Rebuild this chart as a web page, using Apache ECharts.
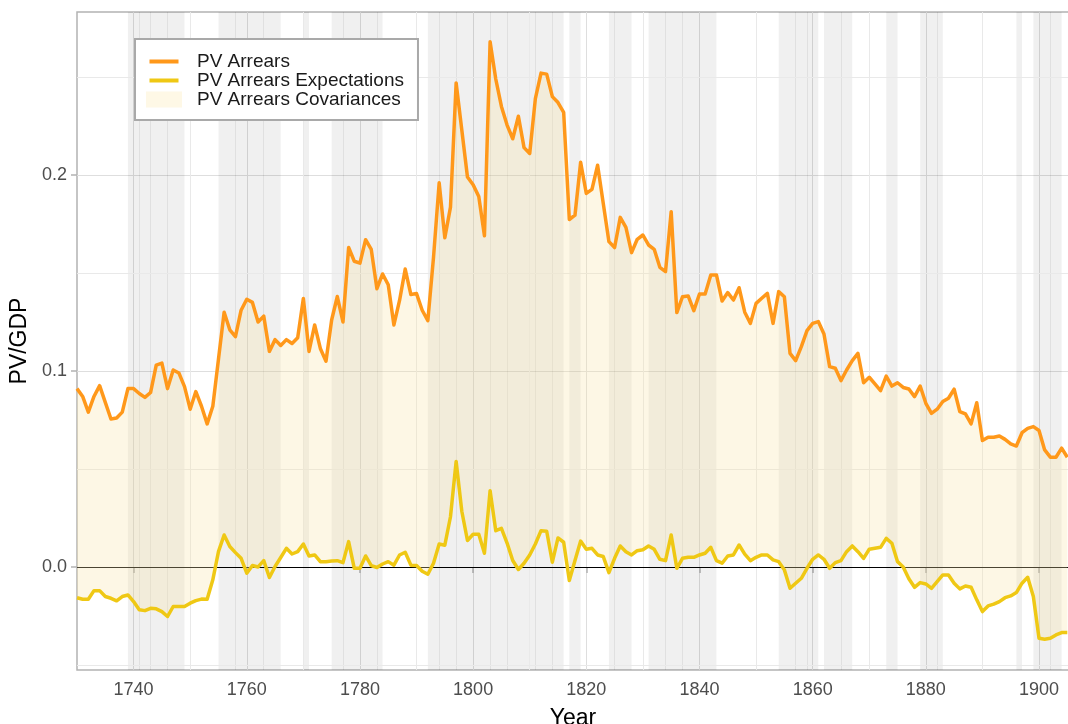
<!DOCTYPE html>
<html>
<head>
<meta charset="utf-8">
<script src="https://cdn.jsdelivr.net/npm/echarts@6/dist/echarts.min.js"></script>
<style>
html,body{margin:0;padding:0;background:#ffffff;}
#chart{width:1068px;height:724px;}
</style>
</head>
<body>
<div id="chart"></div>
<script>
// ---- data ----
const FIRST_YEAR = 1730;

const arrears = [
  0.091, 0.087, 0.079, 0.087, 0.0925, 0.084, 0.0755, 0.076, 0.079, 0.091,      // 1730s
  0.091, 0.0885, 0.0865, 0.089, 0.103, 0.104, 0.091, 0.1005, 0.099, 0.092,     // 1740s
  0.0805, 0.0895, 0.082, 0.073, 0.082, 0.106, 0.130, 0.121, 0.1175, 0.131,     // 1750s
  0.1366, 0.135, 0.125, 0.128, 0.110, 0.116, 0.113, 0.116, 0.114, 0.117,       // 1760s
  0.137, 0.110, 0.1235, 0.1115, 0.105, 0.126, 0.138, 0.125, 0.163, 0.156,      // 1770s
  0.155, 0.167, 0.162, 0.142, 0.1495, 0.144, 0.1235, 0.136, 0.152, 0.139,      // 1780s
  0.1395, 0.131, 0.1257, 0.158, 0.196, 0.168, 0.1836, 0.247, 0.223, 0.199,     // 1790s
  0.195, 0.189, 0.169, 0.268, 0.249, 0.235, 0.2255, 0.2185, 0.230, 0.214,      // 1800s
  0.211, 0.239, 0.252, 0.2515, 0.240, 0.237, 0.232, 0.1773, 0.1795, 0.2065,    // 1810s
  0.1906, 0.1927, 0.205, 0.1855, 0.166, 0.163, 0.1784, 0.1733, 0.1604, 0.1672, // 1820s
  0.1694, 0.1643, 0.1621, 0.1529, 0.1507, 0.1813, 0.1298, 0.1379, 0.1383, 0.1308, // 1830s
  0.1393, 0.1393, 0.149, 0.149, 0.1357, 0.140, 0.1362, 0.1425, 0.130, 0.1243,  // 1840s
  0.1345, 0.1371, 0.1396, 0.1243, 0.1405, 0.1379, 0.109, 0.1053, 0.1124, 0.1206, // 1850s
  0.1243, 0.1252, 0.1189, 0.1022, 0.1014, 0.0951, 0.1005, 0.1053, 0.109, 0.094, // 1860s
  0.0968, 0.0934, 0.090, 0.0974, 0.0923, 0.094, 0.0916, 0.0908, 0.0869, 0.0923, // 1870s
  0.0835, 0.0784, 0.0805, 0.0844, 0.0861, 0.0907, 0.0793, 0.0781, 0.073, 0.0838, // 1880s
  0.0645, 0.0662, 0.0662, 0.0668, 0.0651, 0.0628, 0.0617, 0.0685, 0.0707, 0.0716, // 1890s
  0.0696, 0.0597, 0.056, 0.056, 0.0606, 0.056                                   // 1900-1905
];

const expectations = [
  -0.0157, -0.0165, -0.0165, -0.0121, -0.0121, -0.0151, -0.016, -0.0173, -0.0151, -0.0143, // 1730s
  -0.0177, -0.0219, -0.0223, -0.0211, -0.0214, -0.0228, -0.0253, -0.0202, -0.0202, -0.0202, // 1740s
  -0.0185, -0.0172, -0.0164, -0.0165, -0.0066, 0.0078, 0.0163, 0.0104, 0.0073, 0.0044,     // 1750s
  -0.0032, 0.0007, 0.0, 0.0032, -0.0054, 0.0002, 0.0048, 0.0095, 0.0066, 0.0078,           // 1760s
  0.0117, 0.0056, 0.0061, 0.0027, 0.0027, 0.003, 0.0032, 0.0022, 0.0129, -0.0007,          // 1770s
  -0.0007, 0.0056, 0.0007, -0.0003, 0.0015, 0.0027, 0.0009, 0.0061, 0.0075, 0.0009,        // 1780s
  0.0007, -0.0022, -0.0037, 0.0019, 0.0117, 0.0111, 0.0256, 0.0538, 0.0284, 0.0135,        // 1790s
  0.0167, 0.0167, 0.007, 0.0389, 0.0185, 0.0197, 0.0122, 0.0033, -0.0013, 0.0019,          // 1800s
  0.0061, 0.0117, 0.0185, 0.0182, 0.0024, 0.0148, 0.0126, -0.0069, 0.0033, 0.0132,         // 1810s
  0.009, 0.0095, 0.0061, 0.0053, -0.0029, 0.0044, 0.0107, 0.0078, 0.0061, 0.0083,          // 1820s
  0.0088, 0.0107, 0.009, 0.0039, 0.0032, 0.0163, -0.0007, 0.0044, 0.0049, 0.0049,          // 1830s
  0.0061, 0.007, 0.010, 0.0032, 0.0019, 0.0056, 0.0061, 0.0112, 0.0065, 0.0032,            // 1840s
  0.0049, 0.0061, 0.0061, 0.0036, 0.0027, -0.0015, -0.0109, -0.0083, -0.0058, -0.0007,     // 1850s
  0.0039, 0.0061, 0.0039, -0.0007, 0.0022, 0.0032, 0.0078, 0.0107, 0.0078, 0.0044,         // 1860s
  0.009, 0.0095, 0.010, 0.0146, 0.0121, 0.0027, 0.0, -0.006, -0.0104, -0.008,              // 1870s
  -0.0087, -0.0109, -0.0075, -0.0041, -0.0041, -0.0083, -0.0112, -0.0097, -0.0104, -0.0168, // 1880s
  -0.0228, -0.0199, -0.019, -0.0177, -0.0157, -0.0148, -0.0131, -0.0083, -0.0053, -0.0151, // 1890s
  -0.0364, -0.0369, -0.0364, -0.0347, -0.0335, -0.0335                                      // 1900-1905
];

// shaded periods [start, end] and the inner boundaries visible inside them
const shadedPeriods = [
  [1739, 1749], [1755, 1766], [1770, 1771], [1775, 1784], [1792, 1816], [1817, 1819],
  [1824, 1828], [1831, 1843], [1854, 1861], [1862, 1867], [1873, 1875], [1879, 1883],
  [1896, 1897], [1899, 1904]
];
const periodBoundaries = [1741, 1743, 1746, 1758, 1763, 1777, 1783, 1794, 1797, 1803, 1806,
  1811, 1814, 1825, 1834, 1837, 1857, 1859, 1865, 1882, 1902];

// axis ticks / grid
const xTickValues = [1740, 1760, 1780, 1800, 1820, 1840, 1860, 1880, 1900];
const xMinorGrid = [1750, 1770, 1790, 1810, 1830, 1850, 1870, 1890];
const yTickValues = [0, 0.1, 0.2];
const yMinorGrid = [-0.05, 0.05, 0.15, 0.25];

const seriesNames = ['PV Arrears', 'PV Arrears Expectations', 'PV Arrears Covariances'];

// ---- styling ----
const FONT = '"Liberation Sans", Arial, Helvetica, sans-serif';
const ORANGE = '#ff981a';
const YELLOW = '#efc814';
const FILL = 'rgba(248,229,168,0.3)';
const FILL_KEY = '#fef8e6';
const GRID_COLOR = '#dedede';
const MINOR_COLOR = '#e9e9e9';

const years = arrears.map((_, i) => FIRST_YEAR + i);
const arrearsData = years.map((y, i) => [y, arrears[i]]);
const expData = years.map((y, i) => [y, expectations[i]]);
const bandData = years.map((y, i) => [y, arrears[i], expectations[i]]);

const LINE_ICON = 'path://M0,0h0.01v0.01h-0.01zM35.99,15.99h0.01v0.01h-0.01zM3.5,6h29v4h-29z';
const RECT_ICON = 'path://M0,0h36v16h-36z';

// polygon between the expectations line (bottom) and the arrears line (top)
function renderBand(params, api) {
  if (params.dataIndex !== 0) return null;
  const pts = [];
  for (let i = 0; i < years.length; i++) pts.push(api.coord([years[i], arrears[i]]));
  for (let i = years.length - 1; i >= 0; i--) pts.push(api.coord([years[i], expectations[i]]));
  return {
    type: 'polygon',
    shape: {points: pts},
    style: {fill: FILL, stroke: 'none'},
    silent: true
  };
}

const chart = echarts.init(document.getElementById('chart'), null, {renderer: 'canvas'});

const markLineBase = {silent: true, symbol: 'none', animation: false, label: {show: false}};

const option = {
  animation: false,
  backgroundColor: '#ffffff',
  textStyle: {fontFamily: FONT},
  grid: {
    left: 77, right: -1, top: 12, bottom: 54,
    outerBoundsMode: 'none', containLabel: false,
    show: true, borderColor: '#b3b3b3', borderWidth: 1.5, backgroundColor: 'transparent'
  },
  legend: {
    orient: 'vertical',
    left: 135, top: 39,
    padding: [13, 14, 11, 11],
    itemGap: 0,
    itemWidth: 36, itemHeight: 16,
    backgroundColor: '#ffffff',
    borderColor: '#a9a9a9', borderWidth: 2, borderRadius: 0,
    selectedMode: false,
    z: 10,
    itemStyle: {borderWidth: 0},
    textStyle: {fontFamily: FONT, fontSize: 19, color: '#1a1a1a', lineHeight: 18, padding: [0, 0, 0, 10]},
    data: [
      {name: seriesNames[0], icon: LINE_ICON, itemStyle: {color: ORANGE, borderWidth: 0, opacity: 1}},
      {name: seriesNames[1], icon: LINE_ICON, itemStyle: {color: YELLOW, borderWidth: 0, opacity: 1}},
      {name: seriesNames[2], icon: RECT_ICON, itemStyle: {color: FILL_KEY, borderWidth: 0, opacity: 1}}
    ]
  },
  xAxis: {
    type: 'value', min: 1730, max: 1905.3,
    name: 'Year', nameLocation: 'middle', nameGap: 37,
    nameTextStyle: {fontFamily: FONT, fontSize: 23, color: '#000000'},
    axisLine: {show: false},
    axisTick: {show: true, length: 6, lineStyle: {color: '#b3b3b3', width: 1.5}, customValues: xTickValues},
    axisLabel: {customValues: xTickValues, fontFamily: FONT, fontSize: 18, color: '#4d4d4d', margin: 11,
      formatter: v => String(Math.round(v))},
    splitLine: {show: true, lineStyle: {color: GRID_COLOR, width: 1}}
  },
  yAxis: {
    type: 'value', min: -0.0526, max: 0.2832,
    name: 'PV/GDP', nameLocation: 'middle', nameGap: 42,
    nameTextStyle: {fontFamily: FONT, fontSize: 23, color: '#000000'},
    axisLine: {show: false},
    axisTick: {show: true, length: 6, lineStyle: {color: '#b3b3b3', width: 1.5}, customValues: yTickValues},
    axisLabel: {customValues: yTickValues, fontFamily: FONT, fontSize: 18, color: '#4d4d4d', margin: 10,
      padding: [4, 0, 0, 0], formatter: v => Number(v).toFixed(1)},
    splitLine: {show: true, lineStyle: {color: GRID_COLOR, width: 1}}
  },
  series: [
    {
      // background decorations: shaded periods, their inner boundaries, minor grid
      name: '_decor', type: 'line', data: expData,
      showSymbol: false, silent: true, z: 1,
      lineStyle: {opacity: 0, width: 0},
      markArea: {
        silent: true, z: 1,
        itemStyle: {color: 'rgba(0,0,0,0.058)'},
        data: shadedPeriods.map(p => [{xAxis: p[0]}, {xAxis: p[1]}])
      },
      markLine: Object.assign({}, markLineBase, {
        z: 1,
        data: [
          ...periodBoundaries.map(x => ({xAxis: x, lineStyle: {color: 'rgba(0,0,0,0.065)', width: 1, type: 'solid'}})),
          ...xMinorGrid.map(x => ({xAxis: x, lineStyle: {color: MINOR_COLOR, width: 1, type: 'solid'}})),
          ...yMinorGrid.map(y => ({yAxis: y, lineStyle: {color: MINOR_COLOR, width: 1, type: 'solid'}}))
        ]
      })
    },
    {
      name: seriesNames[2], type: 'custom', data: bandData,
      renderItem: renderBand, clip: true, silent: true, z: 2,
      itemStyle: {color: FILL_KEY},
      encode: {x: 0, y: [1, 2]}
    },
    {
      name: seriesNames[1], type: 'line', data: expData,
      showSymbol: false, silent: true, z: 3,
      lineStyle: {color: YELLOW, width: 3.5, join: 'round'},
      itemStyle: {color: YELLOW},
      markLine: Object.assign({}, markLineBase, {
        z: 2,
        lineStyle: {color: '#000000', width: 1, type: 'solid'},
        data: [{yAxis: 0}]
      })
    },
    {
      name: seriesNames[0], type: 'line', data: arrearsData,
      showSymbol: false, silent: true, z: 3,
      lineStyle: {color: ORANGE, width: 3.5, join: 'round'},
      itemStyle: {color: ORANGE}
    }
  ]
};

chart.setOption(option);
</script>
</body>
</html>
